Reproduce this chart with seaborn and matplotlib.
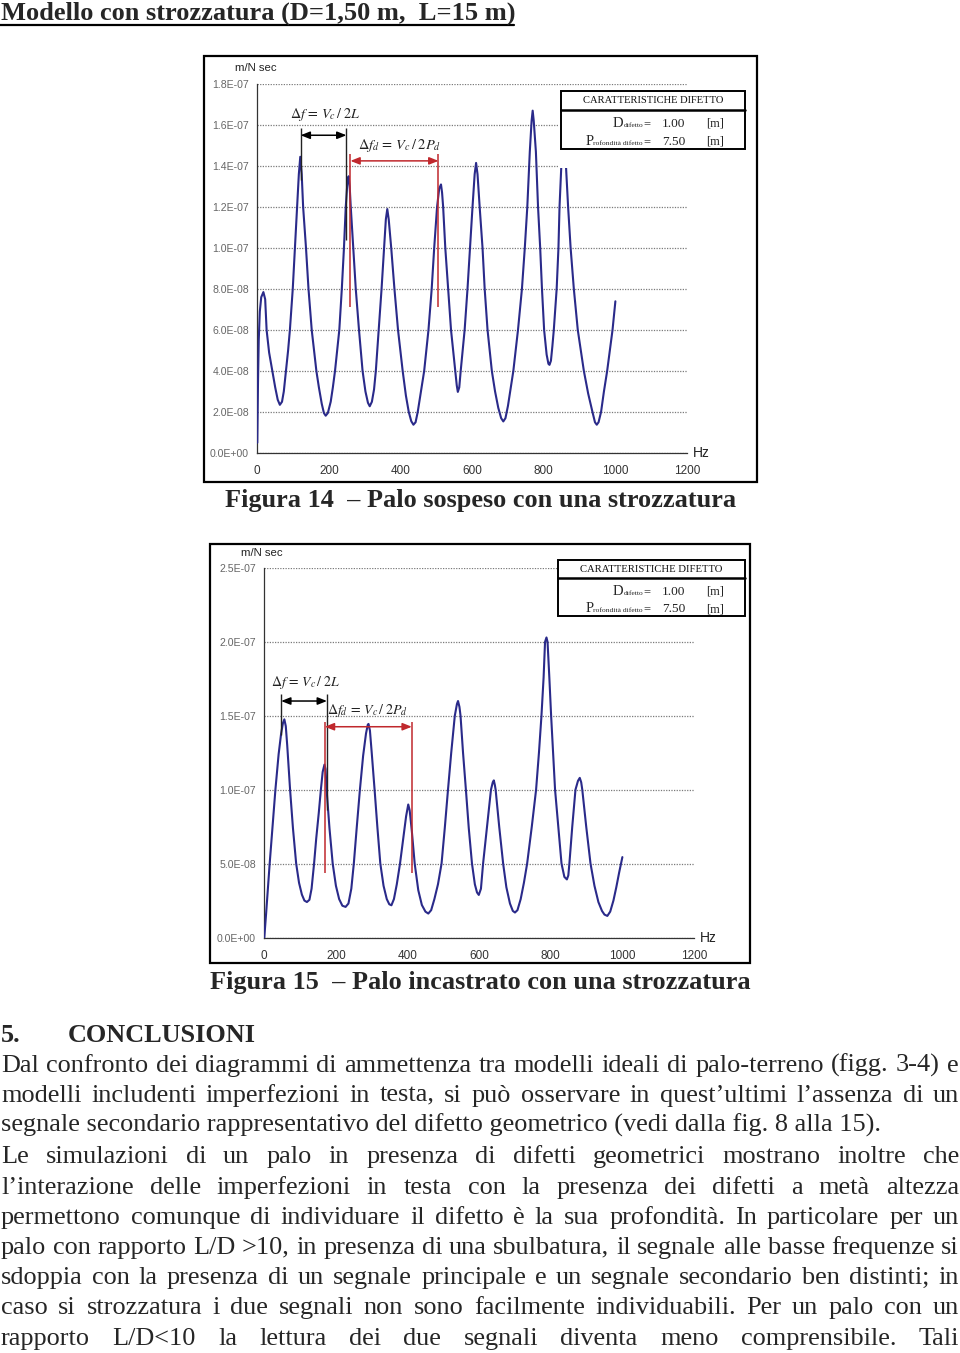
import numpy as np
import matplotlib
matplotlib.use("Agg")
import matplotlib.pyplot as plt
import seaborn as sns
from matplotlib.patches import Rectangle
from matplotlib.lines import Line2D
from matplotlib.font_manager import FontProperties

# ---------------- DATA ----------------
TITLE = "Modello con strozzatura (D=1,50 m,  L=15 m)"
CAPTION_1 = "Figura 14  \u2013 Palo sospeso con una strozzatura"
CAPTION_2 = "Figura 15  \u2013 Palo incastrato con una strozzatura"
SECTION_NUM = "5."
SECTION_TITLE = "CONCLUSIONI"
BODY_LINES = [
    "Dal confronto dei diagrammi di ammettenza tra modelli ideali di palo-terreno (figg. 3-4) e",
    "modelli includenti imperfezioni in testa, si pu\u00f2 osservare in quest\u2019ultimi l\u2019assenza di un",
    "segnale secondario rappresentativo del difetto geometrico (vedi dalla fig. 8 alla 15).",
    "Le simulazioni di un palo in presenza di difetti geometrici mostrano inoltre che",
    "l\u2019interazione delle imperfezioni in testa con la presenza dei difetti a met\u00e0 altezza",
    "permettono comunque di individuare il difetto \u00e8 la sua profondit\u00e0. In particolare per un",
    "palo con rapporto L/D >10, in presenza di una sbulbatura, il segnale alle basse frequenze si",
    "sdoppia con la presenza di un segnale principale e un segnale secondario ben distinti; in",
    "caso si strozzatura i due segnali non sono facilmente individuabili. Per un palo con un",
    "rapporto L/D<10 la lettura dei due segnali diventa meno comprensibile. Tali",
]
BODY_JUSTIFY = [True, True, False, True, True, True, True, True, True, True]

LEGEND_TITLE = "CARATTERISTICHE DIFETTO"
D_DIFETTO = "1.00"
P_DIFETTO = "7.50"
UNIT = "[m]"
Y_UNIT = "m/N sec"
X_UNIT = "Hz"

XTICKS = [0, 200, 400, 600, 800, 1000, 1200]
YTICKS_1 = [0, 2e-8, 4e-8, 6e-8, 8e-8, 1.0e-7, 1.2e-7, 1.4e-7, 1.6e-7, 1.8e-7]
YTICKS_2 = [0, 5e-8, 1.0e-7, 1.5e-7, 2.0e-7, 2.5e-7]

# Figura 14: frequency [Hz], admittance [1e-8 m/N sec]
FREQ_1 = [0, 2, 4, 7, 11, 17, 22, 26, 33, 42, 50, 57, 63, 69, 74, 80, 86, 91, 99, 105,
          111, 116, 120, 124, 128, 136, 143, 152, 165, 172, 180, 186, 191, 197, 205, 211,
          217, 229, 236, 242, 247, 252, 255, 258, 261, 268, 275, 284, 294, 302, 309, 314,
          320, 326, 331, 339, 347, 354, 359, 363, 367, 374, 383, 393, 406, 415, 423, 430,
          436, 442, 448, 457, 466, 478, 487, 494, 502, 508, 513, 516, 519, 525, 533, 541,
          553, 557, 560, 564, 568, 579, 587, 594, 601, 607, 611, 615, 621, 629, 635, 643,
          655, 664, 673, 681, 687, 693, 700, 708, 715, 728, 739, 747, 754, 761, 766, 769,
          772, 778, 784, 790, 795, 801, 808, 813, 816, 820, 824, 828, 836, 841, 844, 849,
          853, 856, 859, 862, 868, 875, 884, 895, 912, 924, 936, 943, 948, 953, 960, 968,
          977, 992, 1000]
ADM_1 = [0.5, 3.5, 5.5, 6.9, 7.6, 7.85, 7.5, 6.0, 4.9, 4.0, 3.2, 2.6, 2.35, 2.5, 3.0, 4.0,
         5.0, 6.0, 8.0, 10.0, 12.0, 13.6, 14.45, 13.6, 12.0, 10.0, 8.0, 6.0, 4.0, 3.2, 2.4,
         1.95, 1.82, 1.95, 2.5, 3.2, 4.0, 6.0, 8.0, 10.0, 12.0, 13.3, 13.5, 13.0, 12.0, 10.0,
         8.0, 6.0, 4.0, 3.0, 2.45, 2.28, 2.5, 3.1, 4.0, 6.0, 8.0, 10.0, 11.4, 11.9, 11.4,
         10.0, 8.0, 6.0, 4.0, 2.8, 2.0, 1.55, 1.38, 1.5, 2.0, 3.0, 4.0, 6.0, 8.0, 10.0,
         12.0, 12.9, 13.1, 12.7, 12.0, 10.0, 8.0, 6.0, 4.0, 3.3, 2.98, 3.2, 4.0, 6.0, 8.0,
         10.0, 12.0, 13.6, 14.15, 13.6, 12.0, 10.0, 8.0, 6.0, 4.0, 3.0, 2.2, 1.7, 1.54, 1.7,
         2.3, 3.2, 4.0, 6.0, 8.0, 10.0, 12.0, 14.7, 16.2, 16.7, 16.2, 14.7, 12.0, 10.0, 8.0,
         6.0, 4.8, 4.35, 4.3, 4.5, 5.2, 6.0, 8.0, 10.0, 12.0, 14.0, 15.6, 16.0, 15.6, 14.0,
         12.0, 10.0, 8.0, 6.0, 4.0, 2.9, 2.0, 1.5, 1.38, 1.5, 2.0, 3.0, 4.0, 6.0, 7.4]

# Figura 15: frequency [Hz], admittance [1e-8 m/N sec]
FREQ_2 = [0, 5, 10, 15, 23, 31, 40, 47, 52, 56, 60, 64, 68, 72, 80, 89, 97, 105, 112, 119,
          126, 132, 139, 145, 152, 158, 163, 168, 171, 174, 182, 191, 200, 209, 218, 227,
          235, 243, 250, 258, 267, 276, 284, 289, 291, 295, 300, 308, 316, 324, 333, 342,
          349, 355, 362, 370, 379, 388, 396, 402, 406, 412, 420, 430, 440, 450, 458, 466,
          475, 485, 495, 504, 513, 522, 532, 538, 541, 545, 548, 555, 563, 571, 580, 588,
          594, 599, 605, 611, 622, 633, 638, 641, 644, 646, 656, 667, 676, 686, 694, 700,
          707, 716, 725, 734, 747, 759, 767, 774, 780, 784, 788, 791, 796, 801, 812, 821,
          830, 838, 845, 849, 852, 860, 869, 876, 881, 885, 888, 899, 911, 922, 933, 943,
          950, 958, 966, 975, 983, 991, 1000]
ADM_2 = [0.0, 1.6, 3.3, 5.0, 7.5, 10.0, 12.4, 13.8, 14.5, 14.76, 14.3, 13.0, 11.5, 10.0,
         7.4, 5.0, 3.7, 2.9, 2.5, 2.4, 2.55, 3.3, 5.0, 6.7, 8.4, 10.0, 11.2, 11.7, 11.4,
         10.0, 7.4, 5.0, 3.5, 2.6, 2.15, 2.07, 2.3, 3.3, 5.0, 7.4, 10.0, 12.3, 13.8, 14.4,
         14.45, 14.0, 12.5, 10.0, 7.4, 5.0, 3.5, 2.6, 2.25, 2.18, 2.6, 3.6, 5.0, 6.7, 8.2,
         9.0, 8.6, 7.2, 5.0, 3.2, 2.2, 1.75, 1.62, 1.85, 2.6, 3.6, 5.0, 7.4, 10.0, 12.5,
         15.0, 15.8, 16.0, 15.6, 15.0, 12.5, 10.0, 7.4, 5.0, 3.6, 3.05, 2.88, 3.3, 5.0,
         7.5, 10.0, 10.5, 10.63, 10.3, 10.0, 7.5, 5.0, 3.4, 2.3, 1.8, 1.69, 1.85, 2.6, 3.7,
         5.0, 7.5, 10.0, 12.5, 15.0, 17.6, 20.0, 20.3, 20.0, 17.6, 15.0, 10.0, 7.5, 5.0,
         4.1, 3.93, 4.2, 5.0, 7.5, 10.0, 10.6, 10.8, 10.5, 10.0, 7.5, 5.0, 3.5, 2.4, 1.8,
         1.55, 1.46, 1.75, 2.5, 3.4, 4.4, 5.44]

# ---------------- STYLE ----------------
sns.set_style("white")
plt.rcParams["font.family"] = ["Liberation Serif", "DejaVu Serif"]
plt.rcParams["mathtext.fontset"] = "stix"

W, H = 960, 1353
fig = plt.figure(figsize=(W / 100, H / 100), dpi=100)
fig.patch.set_facecolor("white")
renderer = fig.canvas.get_renderer()

SERIF = "Liberation Serif"
SANS = "Liberation Sans"
CURVE = "#2a2a8a"
RED = "#c0282d"


def fx(x):
    return x / W


def fy(y):
    return 1 - y / H


def twidth(s, size, family=SERIF, weight="normal", math=False):
    fp = FontProperties(family=family, size=size, weight=weight)
    w, h, d = renderer.get_text_width_height_descent(s, fp, ismath=math)
    return w


def fit(s, target, family=SERIF, weight="normal", math=False):
    return 20 * target / twidth(s, 20, family, weight, math)


def ftext(x, y, s, **kw):
    return fig.text(fx(x), fy(y), s, **kw)


# ---------------- TITLE ----------------
ts = fit(TITLE, 513, weight="bold")
ftext(1, 20, TITLE, fontsize=ts, fontweight="bold", family=SERIF, va="baseline", ha="left")
fig.add_artist(Line2D([fx(0), fx(514)], [fy(24.5), fy(24.5)], color="black", lw=1.6,
                      transform=fig.transFigure))


# ---------------- CHARTS ----------------
def frame(l, t, r, b, lw=1.6, fc="none", z=2):
    fig.add_artist(Rectangle((fx(l), fy(b)), fx(r) - fx(l), fy(t) - fy(b),
                             transform=fig.transFigure, fill=(fc != "none"),
                             facecolor=fc if fc != "none" else "white",
                             edgecolor="black" if lw > 0 else "none", lw=lw, zorder=z))


def make_chart(freq, adm, yticks, left, right, y0, ytop, ymax):
    ax = fig.add_axes([fx(left), fy(y0), (right - left) / W, (y0 - ytop) / H])
    sns.lineplot(x=np.array(freq), y=np.array(adm) * 1e-8, ax=ax, color=CURVE, lw=1.5,
                 zorder=3)
    ax.set_xlim(0, 1200)
    ax.set_ylim(0, ymax)
    ax.set_xticks(XTICKS)
    ax.set_yticks(yticks)
    ax.set_xticklabels([str(v) for v in XTICKS], fontsize=8.5, family=SANS, color="#333333")
    ax.set_yticklabels([f"{v:.1E}" for v in yticks], fontsize=7.6, family=SANS,
                       color="#666666")
    ax.tick_params(axis="x", length=3, width=0.7, color="#444444", pad=6)
    ax.tick_params(axis="y", length=3, width=0.7, color="#444444", pad=3)
    for s in ["top", "right"]:
        ax.spines[s].set_visible(False)
    for s in ["left", "bottom"]:
        ax.spines[s].set_color("#333333")
        ax.spines[s].set_linewidth(0.9)
    ax.yaxis.grid(True, linestyle=(0, (1, 1.1)), color="#7a7a7a", lw=0.9)
    ax.xaxis.grid(False)
    ax.set_axisbelow(True)
    ax.set_xlabel("")
    ax.set_ylabel("")
    ax.patch.set_alpha(0)
    ftext(right + 6, y0 + 4, X_UNIT, fontsize=10, family=SANS, color="#222222",
          ha="left", va="baseline")
    return ax


def legend_box(l, t, r, b, tb, eq_x, val_x, unit_x, row1, row2):
    frame(l, t, r, b, lw=1.4, fc="white", z=2)
    fig.add_artist(Line2D([fx(l), fx(r)], [fy(tb), fy(tb)], color="black", lw=1.8,
                          transform=fig.transFigure, zorder=3))
    tsz = fit(LEGEND_TITLE, 0.77 * (r - l) - 1, weight="normal")
    ftext((l + r) / 2, (t + tb) / 2 + 3.2, LEGEND_TITLE, fontsize=tsz, family=SERIF,
          ha="center", va="baseline", zorder=4, color="#111111")
    big, small, eqs = 10.5, 5.4, 9
    for y, lead, sub, val in [(row1, "D", "difetto", D_DIFETTO),
                              (row2, "P", "rofondit\u00e0 difetto", P_DIFETTO)]:
        yb = y + 4
        x = eq_x
        w_eq = twidth("=", eqs)
        ftext(x, yb, "=", fontsize=eqs, family=SERIF, ha="right", va="baseline", zorder=4)
        x -= w_eq
        ftext(x, yb, sub, fontsize=small, family=SERIF, ha="right", va="baseline", zorder=4)
        x -= twidth(sub, small)
        ftext(x, yb, lead, fontsize=big, family=SERIF, ha="right", va="baseline", zorder=4)
        ftext(val_x, yb, val, fontsize=9.6, family=SERIF, ha="left", va="baseline", zorder=4,
              color="#222222")
        ftext(unit_x, yb, UNIT, fontsize=9, family=SERIF, ha="left", va="baseline",
              zorder=4)


def arrow(ax, x1, x2, y, color):
    ax.annotate("", xy=(x2, y), xytext=(x1, y),
                arrowprops=dict(arrowstyle="<|-|>,head_length=0.55,head_width=0.22",
                                color=color, lw=1.1, shrinkA=0, shrinkB=0), zorder=5)


# ---- Chart 1 (Figura 14)
frame(204, 56, 757, 482, lw=1.6)
ax1 = make_chart(FREQ_1, ADM_1, YTICKS_1, 257.3, 687, 453, 84, 1.8e-7)
ftext(256, 71, Y_UNIT, fontsize=8.2, family=SANS, color="#222222", ha="center", va="baseline")
# white area hiding the top of the curve behind the table
fig.add_artist(Rectangle((fx(558), fy(167.5)), fx(756) - fx(558), fy(87) - fy(167.5),
                         transform=fig.transFigure, facecolor="white", edgecolor="none",
                         zorder=1))
legend_box(561, 91, 745, 149, 109.5, 650, 662, 706, 123, 141)
ax1.vlines([121, 249], [13.3e-8, 10.4e-8], [15.85e-8, 15.85e-8], color="#222222", lw=1.0,
           zorder=4)
arrow(ax1, 121, 249, 15.5e-8, "black")
ax1.vlines([260, 506], [7.1e-8, 7.1e-8], [14.6e-8, 14.6e-8], color=RED, lw=1.1, zorder=4)
arrow(ax1, 260, 506, 14.25e-8, RED)
s_df = r"$\Delta f\,=\,V_c\,/\;2L$"
s_dfd = r"$\Delta f_d\,=\,V_c\,/\;2P_d$"
ax1.text(190, 16.5e-8, s_df, fontsize=fit(s_df, 69, math=True), ha="center", va="center",
         color="#222222", zorder=5)
ax1.text(397, 15.0e-8, s_dfd, fontsize=fit(s_dfd, 82, math=True), ha="center", va="center",
         color="#222222", zorder=5)

cs = fit(CAPTION_1, 510, weight="bold")
ftext(225, 507, CAPTION_1, fontsize=cs, fontweight="bold", family=SERIF, ha="left",
      va="baseline")

# ---- Chart 2 (Figura 15)
frame(210, 544, 750, 963, lw=1.6)
ax2 = make_chart(FREQ_2, ADM_2, YTICKS_2, 264.3, 694, 937.5, 568, 2.5e-7)
ftext(262, 556, Y_UNIT, fontsize=8.2, family=SANS, color="#222222", ha="center", va="baseline")
legend_box(558, 560, 745, 616, 578, 650, 662, 706, 591, 608)
ax2.vlines([47, 175], [13.7e-8, 8.6e-8], [16.5e-8, 16.5e-8], color="#222222", lw=1.0,
           zorder=4)
arrow(ax2, 47, 175, 16.0e-8, "black")
ax2.vlines([169, 412], [4.35e-8, 4.35e-8], [14.6e-8, 14.6e-8], color=RED, lw=1.1, zorder=4)
arrow(ax2, 169, 412, 14.26e-8, RED)
ax2.text(116, 17.25e-8, s_df, fontsize=fit(s_df, 68, math=True), ha="center", va="center",
         color="#222222", zorder=5)
ax2.text(287, 15.35e-8, s_dfd, fontsize=fit(s_dfd, 80, math=True), ha="center",
         va="center", color="#222222", zorder=5)

ftext(480, 989, CAPTION_2, fontsize=cs, fontweight="bold", family=SERIF, ha="center",
      va="baseline")

# ---------------- BODY TEXT ----------------
bs = fit(BODY_LINES[2], 879)
em = bs * 100 / 72
ftext(1, 1033 + 0.33 * em, SECTION_NUM, fontsize=bs, fontweight="bold", family=SERIF,
      ha="left", va="baseline")
ftext(68, 1033 + 0.33 * em, SECTION_TITLE, fontsize=bs, fontweight="bold", family=SERIF,
      ha="left", va="baseline")

LINE_Y = [1063, 1093, 1123, 1154, 1185, 1215, 1245, 1275, 1305, 1336]
for line, yc, just in zip(BODY_LINES, LINE_Y, BODY_JUSTIFY):
    yb = yc + 0.33 * em
    if not just:
        ftext(1, yb, line, fontsize=bs, family=SERIF, ha="left", va="baseline")
        continue
    words = line.split(" ")
    widths = [twidth(w, bs) for w in words]
    gap = (959 - 1 - sum(widths)) / (len(words) - 1)
    x = 1
    for w, wd in zip(words, widths):
        ftext(x, yb, w, fontsize=bs, family=SERIF, ha="left", va="baseline")
        x += wd + gap

fig.savefig("out.png", dpi=100)
